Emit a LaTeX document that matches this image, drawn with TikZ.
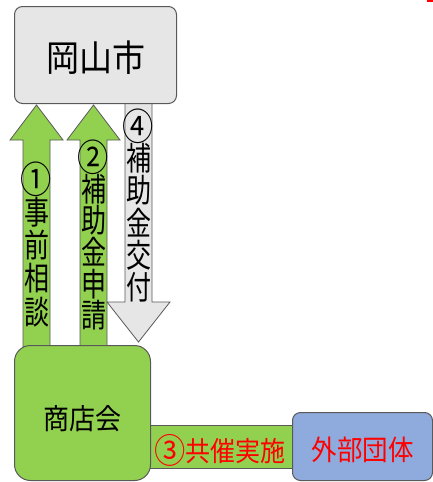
\documentclass[tikz,border=0pt]{standalone}
\usepackage{fontspec}
\usepackage{graphicx}
\newfontfamily\cjk{Noto Sans CJK JP}
\definecolor{boxgray}{HTML}{E6E6E6}
\definecolor{boxgreen}{HTML}{92D050}
\definecolor{boxblue}{HTML}{8FAADC}
\definecolor{edge}{HTML}{595959}
\newcommand\circd[1]{\raisebox{-0.06em}{\scalebox{1.25}{#1}}}
\newcommand\vcirc[1]{\scalebox{1.25}[1.15]{#1}}
\newcommand\vchar[1]{\scalebox{1}[1.3]{#1}}
\newcommand\hstr[1]{\scalebox{1}[1.1]{#1}}
\begin{document}
\begin{tikzpicture}[x=1pt,y=-1pt,
  boxstyle/.style={draw=edge,line width=1pt,inner sep=0pt,anchor=north west},
  arrowshape/.style={draw=edge,line width=0.8pt,line join=miter},
  vtext/.style={inner sep=0pt,font=\cjk\fontsize{25}{26}\selectfont},
]
\useasboundingbox (0,0) rectangle (433,482);
\fill[red] (427,0) rectangle (433,2);
% arrows
\draw[arrowshape,fill=boxgreen] (23,347) -- (23,140) -- (10,140) -- (36.5,105) -- (63,140) -- (50,140) -- (50,347) -- cycle;
\draw[arrowshape,fill=boxgreen] (80,347) -- (80,140) -- (67,140) -- (93.5,105) -- (120,140) -- (107,140) -- (107,347) -- cycle;
\draw[arrowshape,fill=boxgray] (125,100) -- (125,302) -- (107,302) -- (138.5,342) -- (170,302) -- (152,302) -- (152,100) -- cycle;
% bar 3
\draw[arrowshape,fill=boxgreen] (148,425) rectangle (294,468);
% boxes
\node[boxstyle,fill=boxgray,rounded corners=8pt,minimum width=162pt,minimum height=97pt] (city) at (14,6) {};
\node[font=\cjk\fontsize{33}{36}\selectfont,inner sep=0pt] (citylab) at ([yshift=-3pt]city.center) {\hstr{岡山市}};
\node[boxstyle,fill=boxgreen,rounded corners=16pt,minimum width=136pt,minimum height=135pt] (shop) at (14,345) {};
\node[font=\cjk\fontsize{26}{28}\selectfont,inner sep=0pt] (shoplab) at ([yshift=-5.5pt]shop.center) {\hstr{商店会}};
\node[boxstyle,fill=boxblue,rounded corners=8pt,minimum width=140pt,minimum height=68pt] (ext) at (292,412) {};
\node[font=\cjk\fontsize{25.5}{28}\selectfont,text=red,inner sep=0pt] (extlab) at ([yshift=-3pt]ext.center) {\hstr{外部団体}};
\node[font=\cjk\fontsize{25}{28}\selectfont,text=red,inner sep=0pt] (lab3) at (220,450) {\hstr{\circd{③}共催実施}};
% vertical labels
\foreach \c [count=\i from 0] in {\vcirc{①},事,前,相,談}
  \node[vtext] (lab1-\i) at (36.5,179+33.2*\i) {\vchar{\c}};
\foreach \c [count=\i from 0] in {\vcirc{②},補,助,金,申,請}
  \node[vtext] (lab2-\i) at (93.5,157+31.7*\i) {\vchar{\c}};
\foreach \c [count=\i from 0] in {\vcirc{④},補,助,金,交,付}
  \node[vtext] (lab4-\i) at (138.5,126+32.2*\i) {\vchar{\c}};
\end{tikzpicture}
\end{document}
